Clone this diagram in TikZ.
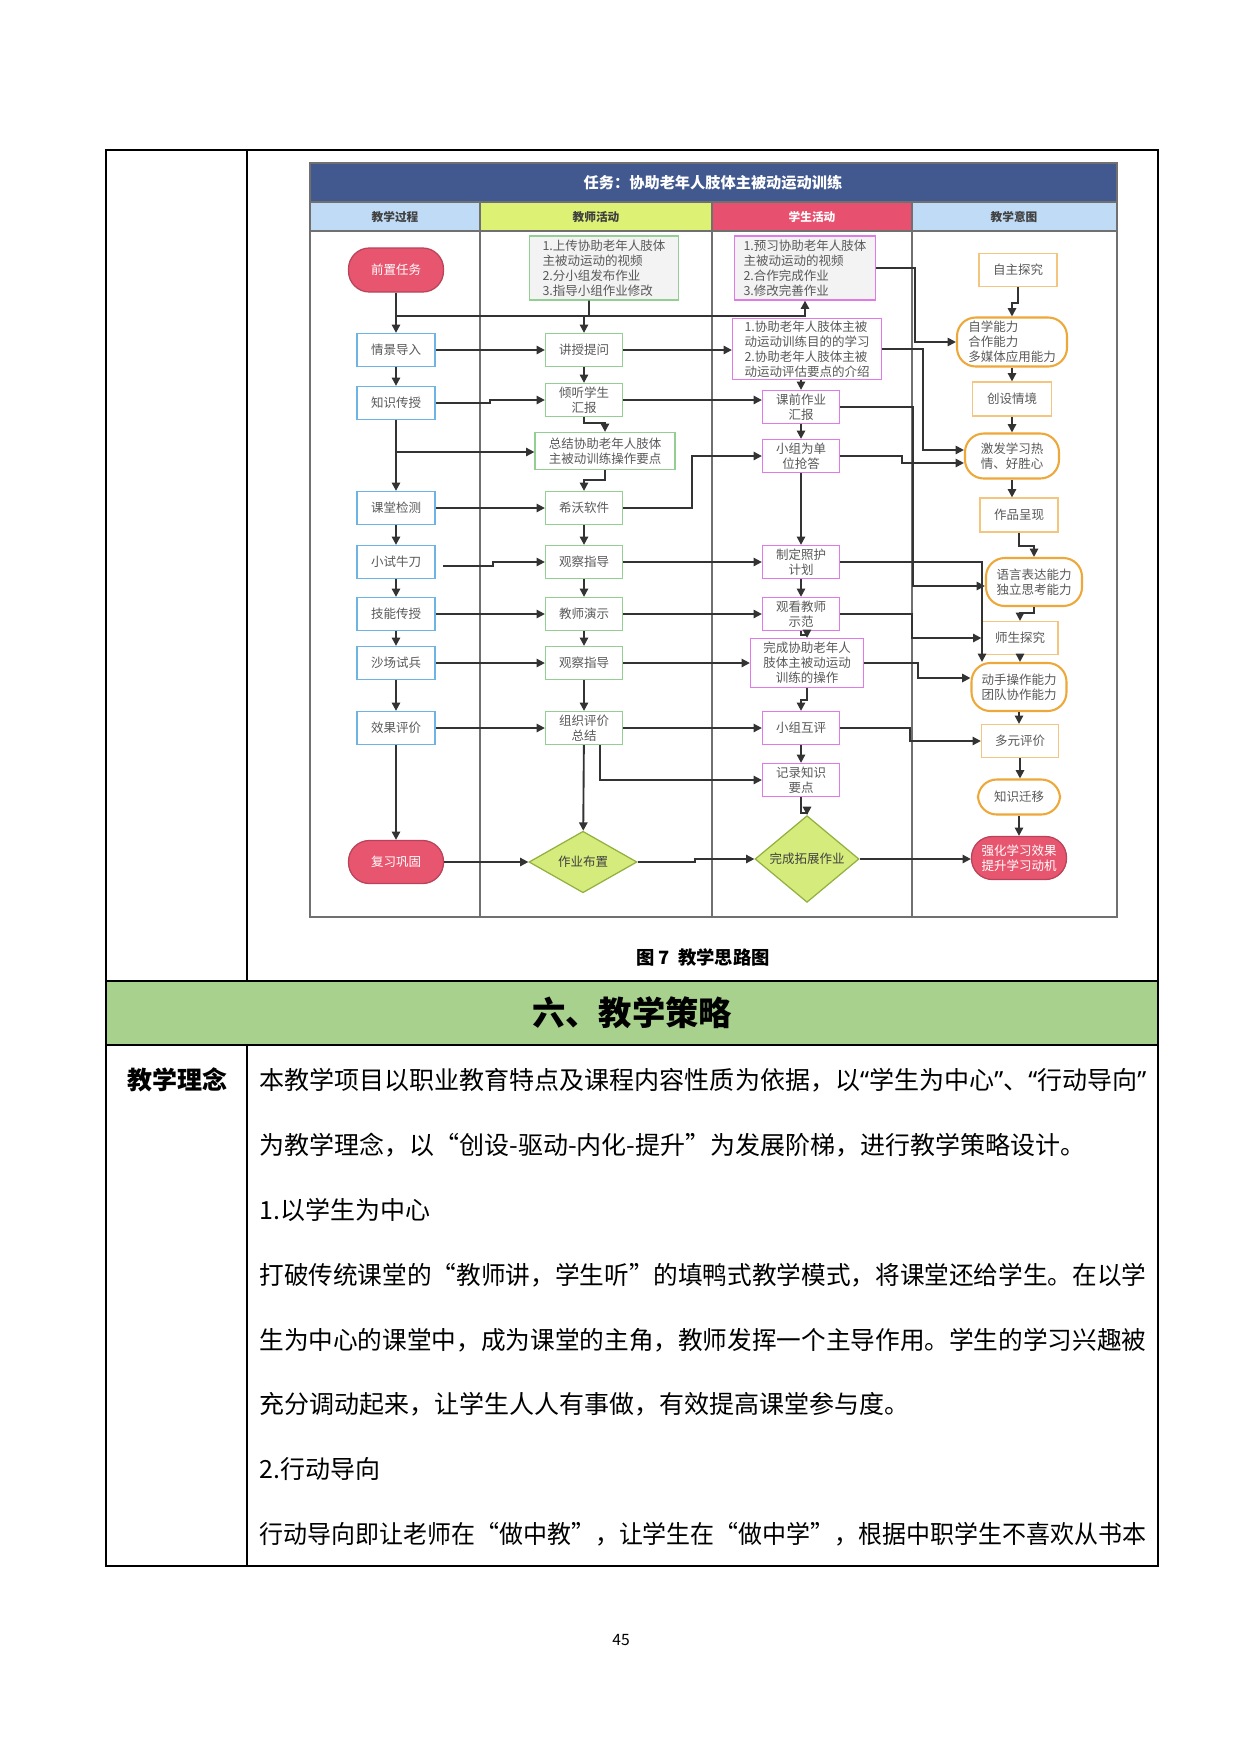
\documentclass[tikz,border=0pt]{standalone}
\usepackage{fontspec}
\usepackage{graphicx}
\setmainfont{Noto Sans CJK SC}
\newfontfamily\qfont{Noto Sans}
\usetikzlibrary{arrows.meta,shapes.geometric}
\definecolor{lnc}{HTML}{333333}
\definecolor{txt}{HTML}{595959}
\definecolor{bluec}{HTML}{6DB3E3}
\definecolor{greenc}{HTML}{93CF93}
\definecolor{magc}{HTML}{E07AE6}
\definecolor{orgl}{HTML}{F3C57E}
\definecolor{orgd}{HTML}{EEA83A}
\definecolor{pinkf}{HTML}{E8556F}
\definecolor{pinkd}{HTML}{B8435A}
\definecolor{limef}{HTML}{D5EC7C}
\definecolor{limed}{HTML}{93B040}
\definecolor{titleb}{HTML}{42598F}
\definecolor{hdblue}{HTML}{C0DBF5}
\definecolor{hdlime}{HTML}{DDF274}
\definecolor{hdpink}{HTML}{E8506F}
\definecolor{grayf}{HTML}{F3F3F3}
\definecolor{framec}{HTML}{707070}
\definecolor{secgreen}{HTML}{A9D18E}
\newcommand\pxu{0.48pt}
\newcommand\fitline[1]{\resizebox{425.76pt}{\height}{#1}}
\newcommand\myLq{{\qfont“}}
\newcommand\myRq{{\qfont”}}
\begin{document}
\begin{tikzpicture}[x=0.48pt,y=-0.48pt,
  bx/.style={font=\fontsize{6pt}{7.2pt}\selectfont, text=txt, align=center, inner sep=0pt, line width=0.6pt, fill=white},
  bb/.style={bx, draw=bluec, minimum width=78*\pxu, minimum height=33*\pxu},
  bg/.style={bx, draw=greenc, minimum width=77*\pxu, minimum height=33*\pxu},
  bm/.style={bx, draw=magc, minimum width=77*\pxu, minimum height=33*\pxu},
  bo/.style={bx, draw=orgl, minimum width=78*\pxu, minimum height=33*\pxu},
  bor/.style={bx, draw=orgd, line width=1pt, rounded corners=9pt},
  pill/.style={bx, fill=pinkf, draw=pinkd, text=white, rounded corners=10pt, minimum width=95*\pxu, minimum height=44*\pxu},
  dia/.style={bx, diamond, fill=limef, draw=limed, text=black!75},
  ar/.style={draw=lnc, line width=0.9pt, -{Triangle[length=4pt,width=4pt]}},
  hd/.style={font=\bfseries\fontsize{5.6pt}{6.5pt}\selectfont, text=black!75, inner sep=0pt},
  body/.style={anchor=west, inner sep=0pt, font=\fontsize{12pt}{14pt}\selectfont, text=black}
]
\useasboundingbox (0,0) rectangle (1240,1753);
\fill[white] (0,0) rectangle (1240,1753);

% ---------- outer table ----------
\fill[secgreen] (106,981) rectangle (1158,1045);
\draw[line width=0.6pt] (106,150) rectangle (1158,1566);
\draw[line width=0.6pt] (247,150) -- (247,981) (247,1045) -- (247,1566);
\draw[line width=0.6pt] (106,981) -- (1158,981) (106,1045) -- (1158,1045);

% ---------- swimlane frame ----------
\fill[titleb] (310,163) rectangle (1117,202);
\fill[hdblue] (310,202) rectangle (480,231);
\fill[hdlime] (480,202) rectangle (712,231);
\fill[hdpink] (712,202) rectangle (912,231);
\fill[hdblue] (912,202) rectangle (1117,231);
\draw[framec, line width=0.6pt] (310,163) rectangle (1117,917);
\draw[framec, line width=0.6pt] (310,202) -- (1117,202) (310,231) -- (1117,231);
\draw[framec, line width=0.6pt] (480,202) -- (480,917) (712,202) -- (712,917) (912,202) -- (912,917);
\node[font=\bfseries\fontsize{7.3pt}{8pt}\selectfont, text=white, inner sep=0pt] (ttl) at (713,183) {任务：协助老年人肢体主被动运动训练};
\node[hd] (h1) at (395,217) {教学过程};
\node[hd] (h2) at (596,217) {教师活动};
\node[hd, text=white] (h3) at (812,217) {学生活动};
\node[hd] (h4) at (1014,217) {教学意图};

% ---------- column 1 ----------
\node[pill] (qz) at (396,270) {前置任务};
\node[bb] (c1) at (396,350) {情景导入};
\node[bb] (c2) at (396,403) {知识传授};
\node[bb] (c3) at (396,508) {课堂检测};
\node[bb] (c4) at (396,562) {小试牛刀};
\node[bb] (c5) at (396,614) {技能传授};
\node[bb] (c6) at (396,663) {沙场试兵};
\node[bb] (c7) at (396,728) {效果评价};
\node[pill, minimum height=43*\pxu] (fx) at (396,862) {复习巩固};

% ---------- column 2 ----------
\node[bg, fill=grayf, align=left, minimum width=149*\pxu, minimum height=64*\pxu] (t0) at (604,268) {1.上传协助老年人肢体\\主被动运动的视频\\2.分小组发布作业\\3.指导小组作业修改};
\node[bg] (t1) at (584,350) {讲授提问};
\node[bg] (t2) at (584,400) {倾听学生\\汇报};
\node[bg, minimum width=140*\pxu, minimum height=37*\pxu] (t3) at (605,451) {总结协助老年人肢体\\主被动训练操作要点};
\node[bg] (t4) at (584,508) {希沃软件};
\node[bg] (t5) at (584,562) {观察指导};
\node[bg] (t6) at (584,614) {教师演示};
\node[bg] (t7) at (584,663) {观察指导};
\node[bg] (t8) at (584,728) {组织评价\\总结};
\node[dia, minimum width=108*\pxu, minimum height=55*\pxu] (zy) at (583,862) {作业布置};

% ---------- column 3 ----------
\node[bm, fill=grayf, align=left, minimum width=141*\pxu, minimum height=64*\pxu] (s0) at (805,268) {1.预习协助老年人肢体\\主被动运动的视频\\2.合作完成作业\\3.修改完善作业};
\node[bm, align=left, minimum width=149*\pxu, minimum height=61*\pxu] (s1) at (807,349) {1.协助老年人肢体主被\\动运动训练目的的学习\\2.协助老年人肢体主被\\动运动评估要点的介绍};
\node[bm] (s2) at (801,407) {课前作业\\汇报};
\node[bm] (s3) at (801,456) {小组为单\\位抢答};
\node[bm] (s4) at (801,562) {制定照护\\计划};
\node[bm] (s5) at (801,614) {观看教师\\示范};
\node[bm, minimum width=113*\pxu, minimum height=49*\pxu] (s6) at (807,663) {完成协助老年人\\肢体主被动运动\\训练的操作};
\node[bm] (s7) at (801,728) {小组互评};
\node[bm] (s8) at (801,780) {记录知识\\要点};
\node[dia, minimum width=104*\pxu, minimum height=56*\pxu] (wc) at (807,859) {完成拓展作业};

% ---------- column 4 ----------
\node[bo] (i1) at (1018,270) {自主探究};
\node[bor, align=left, minimum width=110*\pxu, minimum height=49*\pxu] (i2) at (1012,342) {自学能力\\合作能力\\多媒体应用能力};
\node[bo, minimum width=79*\pxu, minimum height=34*\pxu] (i3) at (1012,399) {创设情境};
\node[bor, minimum width=94*\pxu, minimum height=45*\pxu] (i4) at (1012,456) {激发学习热\\情、好胜心};
\node[bo, minimum height=34*\pxu] (i5) at (1019,515) {作品呈现};
\node[bor, minimum width=96*\pxu, minimum height=48*\pxu] (i6) at (1034,582) {语言表达能力\\独立思考能力};
\node[bo, minimum width=76*\pxu] (i7) at (1020,638) {师生探究};
\node[bor, minimum width=95*\pxu, minimum height=48*\pxu] (i8) at (1019,687) {动手操作能力\\团队协作能力};
\node[bo, minimum width=77*\pxu] (i9) at (1020,741) {多元评价};
\node[bor, minimum width=82*\pxu, minimum height=35*\pxu] (i10) at (1019,797) {知识迁移};
\node[pill, minimum height=43*\pxu] (i11) at (1019,858) {强化学习效果\\提升学习动机};

% ---------- connectors: column 1 ----------
\coordinate (j1) at (396,316);
\coordinate (j2) at (396,452);
\coordinate (c4out) at (443,566);
\draw[ar] (qz) -- (c1);
\draw[ar] (j1) -| (s0.south);
\draw[ar] (c1) -- (t1);
\draw[ar] (c1) -- (c2);
\draw[ar] (c2.east) -- (490,403) |- (t2.west);
\draw[ar] (c2) -- (c3);
\draw[ar] (j2) -- (j2 -| t3.west);
\draw[ar] (c3) -- (t4);
\draw[ar] (c3) -- (c4);
\draw[ar] (c4out) -- (493,566) |- (t5.west);
\draw[ar] (c4) -- (c5);
\draw[ar] (c5) -- (t6);
\draw[ar] (c5) -- (c6);
\draw[ar] (c6) -- (t7);
\draw[ar] (c6) -- (c7);
\draw[ar] (c7) -- (t8);
\draw[ar] (c7) -- (fx);
\draw[ar] (fx) -- (zy);

% ---------- connectors: column 2 ----------
\draw[ar] ([xshift=-7.2pt]t0.south) -- (589,316) -| (t1.north);
\draw[ar] (t1) -- (t2);
\draw[ar] (t1.east) -- (t1.east -| s1.west);
\draw[ar] (t2.south) -- (584,423) -| (t3.north);
\draw[ar] (t2.east) -- (t2.east -| s2.west);
\draw[ar] (t3.south) -- (605,480) -| (t4.north);
\draw[ar] (t4.east) -- (692,508) |- (s3.west);
\draw[ar] (t4) -- (t5);
\draw[ar] (t5) -- (t6);
\draw[ar] (t6) -- (t7);
\draw[ar] (t7) -- (t8);
\draw[ar] (t5) -- (s4);
\draw[ar] (t6) -- (s5);
\draw[ar] (t7.east) -- (t7.east -| s6.west);
\draw[ar] (t8) -- (s7);
\draw[ar] ([xshift=7.7pt]t8.south) |- (s8.west);
\draw[ar] (t8) -- (zy);
\draw[ar] (zy.east) -- (695,862) |- (wc.west);

% ---------- connectors: column 3 ----------
\draw[ar] (s1.south -| s2.north) -- (s2.north);
\draw[ar] (s2) -- (s3);
\draw[ar] (s3) -- (s4);
\draw[ar] (s4) -- (s5);
\draw[ar] (s5.south) -- (801,635) -| (s6.north);
\draw[ar] (s6.south) -- (807,700) -| (s7.north);
\draw[ar] (s7) -- (s8);
\draw[ar] (s8.south) -- (801,813) -| (wc.north);
\draw[ar] (wc.east) -- (wc.east -| i11.west);

% ---------- connectors: student -> intent ----------
\draw[ar] (s0.east) -- (915,268) |- (i2.west);
\draw[ar] (s1.east) -- (923,349) |- ([yshift=2.88pt]i4.west);
\draw[ar] (s2.east) -- (913,407) |- ([yshift=-1.92pt]i6.west);
\draw[ar] (s3.east) -- (902,456) -- (902,463) -- ([yshift=-3.36pt]i4.west);
\draw[ar] (s4.east) -| ([xshift=-17.76pt]i8.north);
\draw[ar] (s5.east) -- (912,614) |- (i7.west);
\draw[ar] (s6.east) -- (918,663) |- ([yshift=4.32pt]i8.west);
\draw[ar] (s7.east) -- (910,728) |- (i9.west);

% ---------- connectors: intent column ----------
\draw[ar] (i1.south) -- (1018,303) -| (i2.north);
\draw[ar] (i2) -- (i3);
\draw[ar] (i3) -- (i4);
\draw[ar] (i4.south) -- (i4.south |- i5.north);
\draw[ar] (i5.south) -- (1019,546) -| (i6.north);
\draw[ar] (i6.south) -- (1034,613) -| (i7.north);
\draw[ar] (i7.south) -- (i7.south |- i8.north);
\draw[ar] (i8.south) -- (i8.south |- i9.north);
\draw[ar] (i9.south) -- (i9.south |- i10.north);
\draw[ar] (i10) -- (i11);

% ---------- caption and text ----------
\node[font=\bfseries\fontsize{8.8pt}{10pt}\selectfont, text=black, inner sep=0pt] (cap) at (703,957) {图 7\ \ 教学思路图};
\node[font=\bfseries\fontsize{16pt}{18pt}\selectfont, text=black, inner sep=0pt] (sec) at (632,1013) {六、教学策略};
\node[font=\bfseries\fontsize{12pt}{14pt}\selectfont, text=black, inner sep=0pt] (lx) at (177,1080) {教学理念};
\node[body] (l1) at (259,1080) {\fitline{本教学项目以职业教育特点及课程内容性质为依据，以\myLq 学生为中心\myRq 、\myLq 行动导向\myRq}};
\node[body] (l2) at (259,1145) {为教学理念，以“创设-驱动-内化-提升”为发展阶梯，进行教学策略设计。};
\node[body] (l3) at (259,1210) {1.以学生为中心};
\node[body] (l4) at (259,1275) {\fitline{打破传统课堂的“教师讲，学生听”的填鸭式教学模式，将课堂还给学生。在以学}};
\node[body] (l5) at (259,1340) {\fitline{生为中心的课堂中，成为课堂的主角，教师发挥一个主导作用。学生的学习兴趣被}};
\node[body] (l6) at (259,1404) {充分调动起来，让学生人人有事做，有效提高课堂参与度。};
\node[body] (l7) at (259,1469) {2.行动导向};
\node[body] (l8) at (259,1534) {\fitline{行动导向即让老师在“做中教”，让学生在“做中学”，根据中职学生不喜欢从书本}};
\node[font=\fontsize{7.5pt}{9pt}\selectfont, text=black, inner sep=0pt] (pg) at (621,1640) {45};
\end{tikzpicture}
\end{document}
